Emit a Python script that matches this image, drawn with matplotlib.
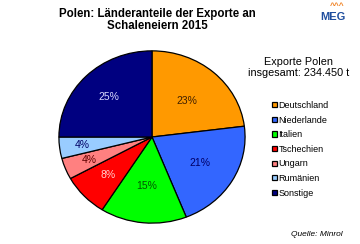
import matplotlib
matplotlib.use("Agg")
import matplotlib.pyplot as plt
import numpy as np

countries = ["Deutschland", "Niederlande", "Italien", "Tschechien", "Ungarn", "Rumänien", "Sonstige"]
shares = [23, 21, 15, 8, 4, 4, 25]
colors = ["#FF9900", "#3366FF", "#00FF00", "#FF0000", "#FF8080", "#99CCFF", "#000080"]
label_colors = ["#402000", "#000066", "#005500", "#FFD0D0", "#600000", "#000066", "#D8D8FF"]
label_dist = [0.56, 0.6, 0.57, 0.65, 0.73, 0.75, 0.65]

plt.rcParams['font.family'] = ['Liberation Sans', 'DejaVu Sans']

W, H = 360, 244
fig = plt.figure(figsize=(W / 100, H / 100), dpi=100)
fig.patch.set_facecolor("white")

cx, cy, rx, ry = 152, 137, 94, 87
ax = fig.add_axes([(cx - rx) / W, (H - cy - ry) / H, 2 * rx / W, 2 * ry / H])
wedges, _ = ax.pie(shares, colors=colors, startangle=90, counterclock=False,
                   wedgeprops=dict(edgecolor="black", linewidth=0.9))
ax.set_aspect("auto")
ax.set_xlim(-1.01, 1.01)
ax.set_ylim(-1.01, 1.01)
ax.axis("off")

for w, s, c, d in zip(wedges, shares, label_colors, label_dist):
    ang = np.deg2rad((w.theta1 + w.theta2) / 2)
    ax.text(d * np.cos(ang), d * np.sin(ang), f"{s}%", ha="center", va="center",
            fontsize=7.5, color=c)

fig.text(157 / W, 1 - 14 / H, "Polen: Länderanteile der Exporte an", ha="center", va="center",
         fontsize=8.3, fontweight="bold")
fig.text(157 / W, 1 - 26 / H, "Schaleneiern 2015", ha="center", va="center",
         fontsize=8.3, fontweight="bold")

fig.text(299 / W, 1 - 62 / H, "Exporte Polen", ha="center", va="center", fontsize=7.8)
fig.text(299 / W, 1 - 73 / H, "insgesamt: 234.450 t", ha="center", va="center", fontsize=7.8)

leg = fig.legend(wedges, countries, loc="upper left", bbox_to_anchor=(272 / W, 1 - 101 / H),
                 frameon=False, fontsize=6.5, handlelength=0.5, handleheight=0.5,
                 handletextpad=0.2, labelspacing=0.62, borderpad=0, borderaxespad=0)

fig.text(343 / W, 1 - 234 / H, "Quelle: Minrol", ha="right", va="center", fontsize=6,
         style="italic")

# logo
fig.text(333 / W, 1 - 17 / H, "MEG", ha="center", va="center", fontsize=8,
         fontweight="bold", color="#1F4E9E")
fig.text(337 / W, 1 - 7 / H, "^^^", ha="center", va="center", fontsize=6,
         fontweight="bold", color="#F08020")

fig.savefig("out.png", dpi=100)
